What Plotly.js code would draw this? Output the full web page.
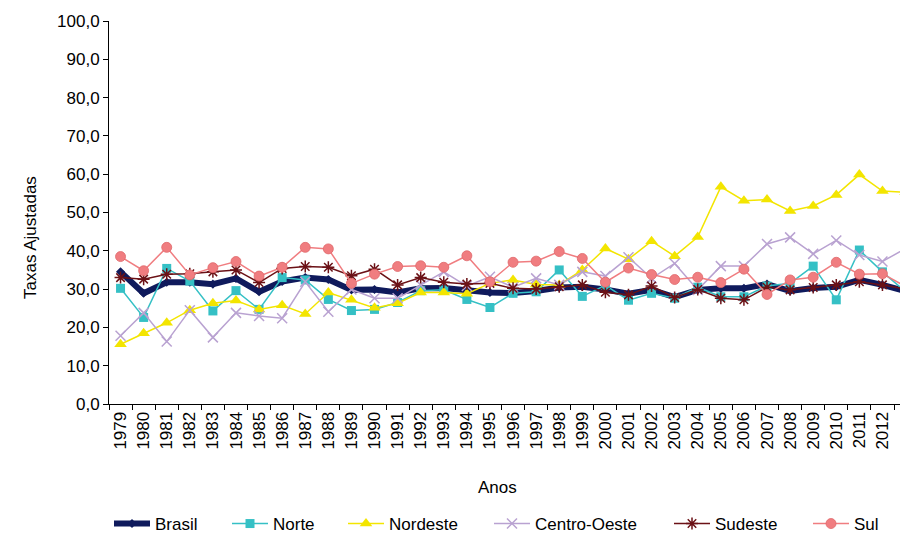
<!DOCTYPE html>
<html>
<head>
<meta charset="utf-8">
<script src="https://cdn.plot.ly/plotly-3.0.1.min.js"></script>
<style>
html,body{margin:0;padding:0;background:#fff;overflow:hidden;}
#chart{width:900px;height:535px;}
</style>
</head>
<body>
<div id="chart"></div>
<script>
const years = ['1979','1980','1981','1982','1983','1984','1985','1986','1987','1988','1989','1990','1991','1992','1993','1994','1995','1996','1997','1998','1999','2000','2001','2002','2003','2004','2005','2006','2007','2008','2009','2010','2011','2012','2013'];

const brasil = [34.5,28.9,31.8,31.8,31.3,32.8,29.3,32.0,33.0,32.5,29.8,29.9,29.1,30.2,30.3,29.8,29.1,29.0,29.5,30.4,30.6,29.9,28.8,29.8,27.9,29.8,30.2,30.2,31.3,29.5,30.3,30.6,32.4,31.1,29.5];
const norte = [30.2,22.6,35.4,32.1,24.3,29.6,24.7,33.0,32.4,27.3,24.4,24.7,26.5,29.6,29.8,27.3,25.2,28.9,29.3,35.0,28.1,31.0,27.1,28.9,27.6,30.5,28.0,28.0,30.8,31.5,36.0,27.2,40.2,34.5,29.3];
const nordeste = [15.6,18.5,21.2,24.5,26.3,27.0,24.7,25.8,23.5,29.1,27.2,25.1,26.3,29.1,29.1,28.8,31.5,32.4,31.2,31.1,35.0,40.6,37.8,42.5,38.6,43.6,56.7,53.1,53.4,50.4,51.7,54.6,59.9,55.6,55.3];
const centroOeste = [17.8,23.8,16.3,24.5,17.4,23.8,23.0,22.4,31.9,24.1,29.9,27.6,27.6,31.1,34.5,30.8,33.2,30.5,32.8,31.1,34.5,33.4,38.3,32.8,36.7,29.8,36.0,36.0,41.8,43.5,39.2,42.7,38.9,37.2,40.6];
const sudeste = [33.0,32.6,33.9,34.0,34.5,35.0,31.7,35.4,35.9,35.7,33.5,35.2,31.1,33.0,31.8,31.3,31.5,30.2,30.0,30.6,31.1,29.2,28.5,30.8,27.8,29.9,27.6,27.2,30.5,29.8,30.4,31.1,31.9,31.1,30.0];
const sul = [38.5,34.8,40.9,33.7,35.6,37.2,33.4,35.7,40.9,40.5,31.5,33.9,35.9,36.1,35.7,38.7,31.9,37.0,37.3,39.8,38.0,31.8,35.5,33.8,32.5,33.1,31.7,35.2,28.6,32.4,33.1,37.0,33.9,34.0,30.7];

const seriesNames = ['Brasil','Norte','Nordeste','Centro-Oeste','Sudeste','Sul'];
const seriesData = [brasil, norte, nordeste, centroOeste, sudeste, sul];

const styles = [
  {color:'#0f1a5c', width:6, symbol:'diamond', size:7, lineColor:'#0f1a5c', lineW:0},
  {color:'#35c0c5', width:1.5, symbol:'square', size:9, lineColor:'#35c0c5', lineW:0},
  {color:'#f3e500', width:1.5, symbol:'triangle-up', size:11, lineColor:'#f3e500', lineW:0},
  {color:'#b9a2d1', width:1.5, symbol:'x-thin-open', size:10, lineColor:'#b9a2d1', lineW:1.5},
  {color:'#6b1116', width:1.5, symbol:'asterisk-open', size:10, lineColor:'#6b1116', lineW:1.5},
  {color:'#f07d80', width:1.5, symbol:'circle', size:10, lineColor:'#e0686b', lineW:0.8}
];

// legend text start positions (px) in the window
const legendTextX = [155, 273, 389, 535, 715, 854];
const legendIds = ['legend','legend2','legend3','legend4','legend5','legend6'];

const traces = seriesNames.map((name, i) => ({
  type:'scatter', mode:'lines+markers', name:name,
  x: years, y: seriesData[i],
  legend: legendIds[i],
  line:{color:styles[i].color, width:styles[i].width},
  marker:{symbol:styles[i].symbol, size:styles[i].size, color:styles[i].color,
          line:{color:styles[i].lineColor, width:styles[i].lineW}}
}));

const font = {family:'"Liberation Sans", Arial, sans-serif', size:17, color:'#000'};

const layout = {
  width:900, height:535,
  margin:{l:109, r:0, t:21, b:131},
  paper_bgcolor:'#fff', plot_bgcolor:'#fff',
  separators:',.',
  font:font,
  showlegend:true,
  xaxis:{
    type:'category', range:[-0.5, 33.76], tickson:'boundaries',
    ticks:'outside', ticklen:5, tickcolor:'#000', tickwidth:1,
    showline:true, linecolor:'#000', linewidth:1,
    showgrid:false, zeroline:false, tickangle:-90,
    tickfont:font, automargin:false
  },
  yaxis:{
    range:[0,100], dtick:10, tick0:0, tickformat:'.1f',
    ticks:'outside', ticklen:5, tickcolor:'#000', tickwidth:1,
    showline:true, linecolor:'#000', linewidth:1,
    showgrid:false, zeroline:false, tickfont:font, automargin:false
  },
  annotations:[
    {text:'Anos', xref:'paper', yref:'paper', x:(497-109)/791, y:-(487-404)/383,
     xanchor:'center', yanchor:'middle', showarrow:false, font:font},
    {text:'Taxas Ajustadas', xref:'paper', yref:'paper', x:-(109-30)/791, y:(404-238)/383,
     xanchor:'center', yanchor:'middle', showarrow:false, textangle:-90, font:font}
  ]
};

legendIds.forEach((id, i) => {
  layout[id] = {
    orientation:'h', xref:'container', yref:'container',
    x:(legendTextX[i]-46)/900, y:11/535, xanchor:'left', yanchor:'middle',
    bgcolor:'rgba(0,0,0,0)', borderwidth:0, font:font, itemwidth:36
  };
});

Plotly.newPlot('chart', traces, layout, {displayModeBar:false, staticPlot:true});
</script>
</body>
</html>
